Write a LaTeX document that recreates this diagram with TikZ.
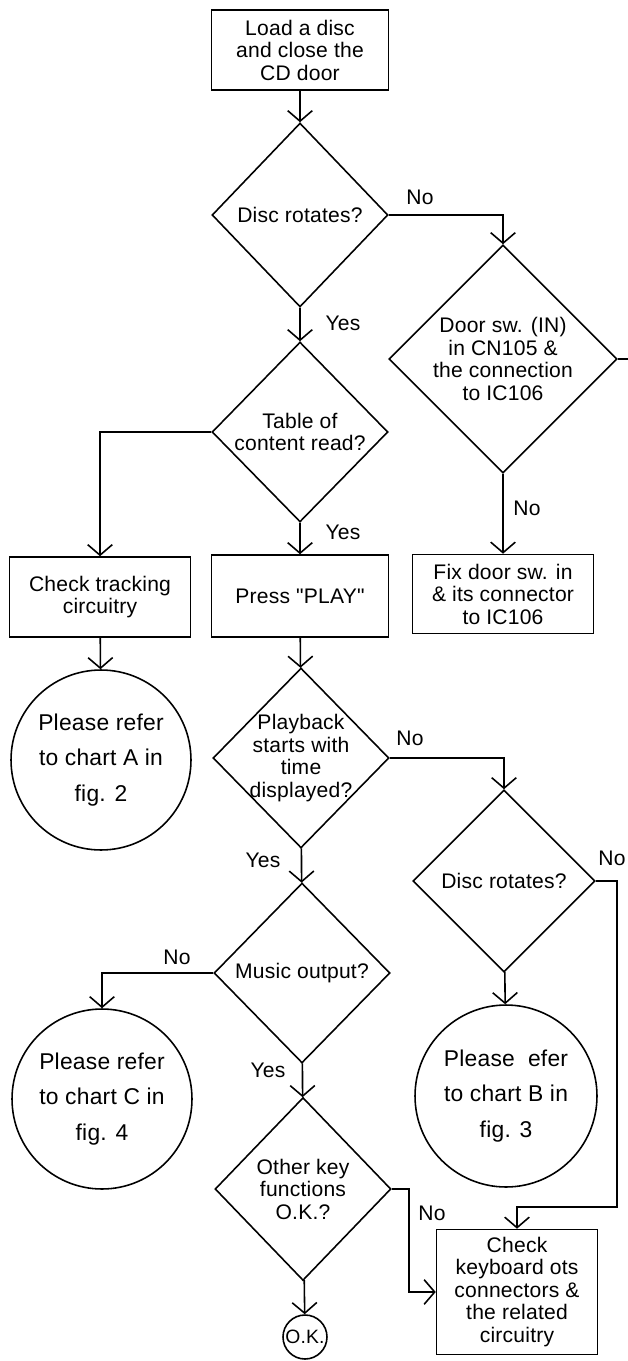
\documentclass[tikz,border=0pt]{standalone}
\usepackage{fontspec}
\newfontfamily\flowfont{Liberation Sans}[LetterSpace=1]
\usepackage{tikz}
\usetikzlibrary{
    shapes.geometric,
    arrows.meta,
    positioning
}
\tikzset{
    flowbox/.style={draw, rectangle, align=center, inner sep=0pt},
    decision/.style={draw, diamond, aspect=1, align=center, inner sep=0pt},
    refcircle/.style={draw, circle, align=center, inner sep=0pt, font=\flowfont\fontsize{13}{13}\selectfont},
    answer/.style={inner sep=0pt},
    flowline/.style={-{Straight Barb[length=6pt,width=14pt]}}
}

\begin{document}
\begin{tikzpicture}[x=0.02cm, y=-0.02cm, line width=0.9pt, font=\flowfont\fontsize{12}{12.8}\selectfont]
    \useasboundingbox (0,0) rectangle (628,1361);

    \node[flowbox, minimum width=3.54cm, minimum height=1.6cm] (load) at (300,50) {Load a disc\\and close the\\CD door};
    \node[decision, minimum width=3.52cm, minimum height=3.68cm] (rot1) at (300,215) {Disc rotates?};
    \node[decision, minimum width=3.52cm, minimum height=3.6cm] (toc) at (300,432) {Table of\\content read?};
    \node[flowbox, minimum width=3.62cm, minimum height=1.6cm] (track) at (100,597) {Check tracking\\circuitry};
    \node[flowbox, minimum width=3.54cm, minimum height=1.64cm] (play) at (300,596) {Press "PLAY"};
    \node[refcircle, minimum size=3.6cm] (chartA) at (101,760) {Please refer\\[7pt]to chart A in\\[7pt]fig. 2};
    \node[decision, minimum width=4.56cm, minimum height=4.56cm, inner sep=-3pt] (door) at (503,359) {Door sw. (IN)\\in CN105 \&\\the connection\\to IC106};
    \node[flowbox, minimum width=3.62cm, minimum height=1.58cm] (fixdoor) at (503,594) {Fix door sw. in\\\& its connector\\to IC106};
    \node[decision, minimum width=3.52cm, minimum height=3.6cm, inner sep=-4pt] (playback) at (301,758) {Playback\\starts with\\time\\displayed?};
    \node[decision, minimum width=3.64cm, minimum height=3.64cm] (rot2) at (504,881) {Disc rotates?};
    \node[decision, minimum width=3.52cm, minimum height=3.6cm] (music) at (302,973) {Music output?};
    \node[refcircle, minimum size=3.6cm] (chartC) at (102,1099) {Please refer\\[7pt]to chart C in\\[7pt]fig. 4};
    \node[refcircle, minimum size=3.64cm] (chartB) at (506,1096) {Please\ \ efer\\[7pt]to chart B in\\[7pt]fig. 3};
    \node[decision, minimum width=3.52cm, minimum height=3.66cm] (okq) at (303,1189) {Other key\\functions\\O.K.?};
    \node[refcircle, minimum size=0.88cm, font=\flowfont\fontsize{11}{12}\selectfont] (okdone) at (305,1337) {O.K.};
    \node[flowbox, minimum width=3.22cm, minimum height=2.5cm] (keys) at (517,1292) {Check\\keyboard ots\\connectors \&\\the related\\circuitry};

    \coordinate (doorstub) at (628,359);
    \coordinate (bend1) at (617,1207);
    \coordinate (bend2) at (409,1250);

    \node[answer] (no1) at (420,197) {No};
    \node[answer] (yes1) at (343,323) {Yes};
    \node[answer] (yes2) at (343,532) {Yes};
    \node[answer] (no2) at (527,508) {No};
    \node[answer] (no3) at (410,738) {No};
    \node[answer] (yes3) at (263,860) {Yes};
    \node[answer] (no4) at (612,858) {No};
    \node[answer] (no5) at (177,957) {No};
    \node[answer] (yes4) at (268,1070) {Yes};
    \node[answer] (no6) at (432,1213) {No};

    \draw[flowline] (load) -- (rot1);
    \draw[flowline] (rot1.east) -| (door.north);
    \draw[flowline] (rot1) -- (toc);
    \draw[flowline] (toc.west) -| (track.north);
    \draw[flowline] (toc) -- (play);
    \draw (door.east) -- (doorstub);
    \draw[flowline] (door) -- (fixdoor);
    \draw[flowline] (track) -- (chartA);
    \draw[flowline] (play) -- (playback);
    \draw[flowline] (playback.east) -| (rot2.north);
    \draw[flowline] (playback) -- (music);
    \draw[flowline] (rot2) -- (chartB);
    \draw[flowline] (rot2.east) -| (bend1) -| (keys.north);
    \draw[flowline] (music.west) -| (chartC.north);
    \draw[flowline] (music) -- (okq);
    \draw[flowline] (okq.east) -| (bend2) |- (keys.west);
    \draw[flowline] (okq) -- (okdone);
\end{tikzpicture}
\end{document}
